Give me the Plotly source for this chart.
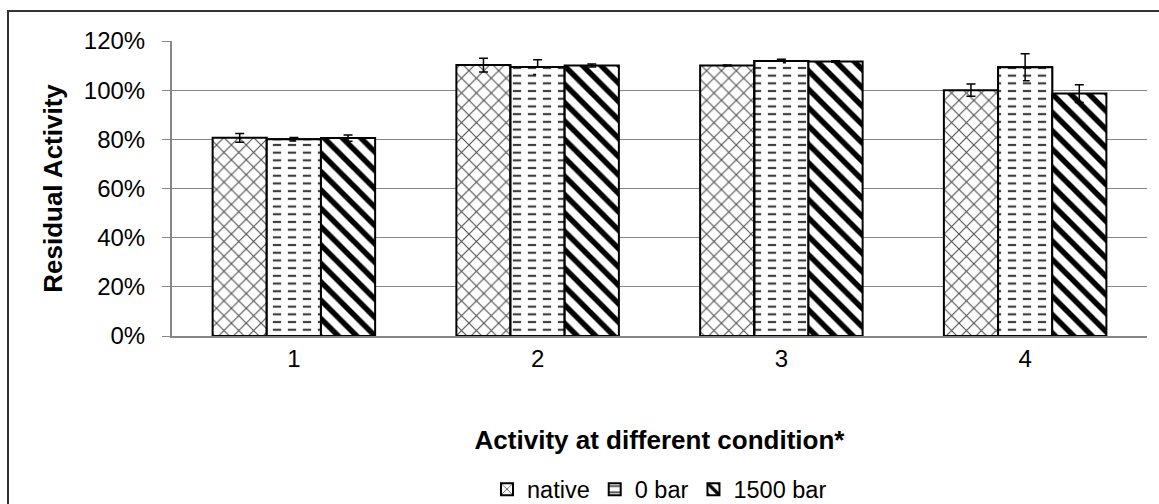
import plotly.graph_objects as go

# Residual activity per condition, three pressure treatments
categories = ["1", "2", "3", "4"]
native = [0.806, 1.102, 1.100, 1.000]
native_err = [0.018, 0.028, 0.002, 0.025]
bar0 = [0.800, 1.094, 1.119, 1.093]
bar0_err = [0.007, 0.030, 0.007, 0.055]
bar1500 = [0.805, 1.100, 1.117, 0.986]
bar1500_err = [0.013, 0.006, 0.003, 0.036]

# bar geometry inside each category slot (gap = 1.5 bar widths)
BAR_W = 1 / 4.5
offsets = [-1.5 * BAR_W, -0.5 * BAR_W, 0.5 * BAR_W]

series = [
    ("native", native, native_err, dict(shape="x", size=10.5, solidity=0.2, fgcolor="#505050")),
    ("0 bar", bar0, bar0_err, dict(shape="-", size=7.7, solidity=0.28, fgcolor="#3c3c3c")),
    ("1500 bar", bar1500, bar1500_err, dict(shape="\\", size=13, solidity=0.42, fgcolor="#000000")),
]

FONT = "Liberation Sans, Arial, sans-serif"

fig = go.Figure()
for (name, vals, errs, pat), off in zip(series, offsets):
    fig.add_trace(go.Bar(
        name=name,
        x=categories,
        y=vals,
        offset=off, width=BAR_W,
        error_y=dict(type="data", array=errs, visible=True, color="black",
                     thickness=1.5, width=4.5),
        marker=dict(color="white", line=dict(color="black", width=2),
                    pattern=dict(bgcolor="white", fillmode="replace", **pat)),
    ))
    if name == "0 bar":
        # white vertical breaks turn the horizontal rules into dashes
        fig.add_trace(go.Bar(
            name=name, showlegend=False, hoverinfo="skip",
            x=categories, y=vals, offset=off, width=BAR_W,
            marker=dict(color="rgba(0,0,0,0)", line=dict(color="black", width=2),
                        pattern=dict(shape="|", size=15, solidity=0.45,
                                     fgcolor="white", bgcolor="rgba(0,0,0,0)",
                                     fillmode="replace")),
        ))

fig.update_layout(
    width=1159, height=504,
    margin=dict(l=172, r=12, t=41, b=168, autoexpand=False),
    paper_bgcolor="white", plot_bgcolor="white",
    barmode="overlay",
    font=dict(family=FONT, size=24, color="black"),
    showlegend=True,
    legend=dict(orientation="h", x=0.5, xanchor="center", y=-0.52, yanchor="middle",
                font=dict(size=23.5), itemwidth=30, traceorder="normal",
                bgcolor="rgba(0,0,0,0)", tracegroupgap=0),
    xaxis=dict(
        showgrid=False, showline=True, linecolor="#868686", linewidth=2,
        ticks="", tickfont=dict(size=24), automargin=False,
        title=dict(text="<b>Activity at different condition*</b>",
                   font=dict(size=26), standoff=60),
    ),
    yaxis=dict(
        range=[0, 1.2], dtick=0.2, tickformat=".0%",
        showgrid=True, gridcolor="#868686", gridwidth=1.3,
        showline=True, linecolor="#868686", linewidth=2,
        ticks="outside", ticklen=8, tickcolor="#868686", tickwidth=1.3,
        ticklabelstandoff=12, tickfont=dict(size=24),
        zeroline=False, automargin=False,
        title=dict(text="<b>Residual Activity</b>", font=dict(size=26), standoff=14),
    ),
    shapes=[dict(type="rect", xref="paper", yref="paper",
                 x0=(8 - 172) / 975, x1=(1170 - 172) / 975,
                 y0=(336 - 515) / 295, y1=(336 - 11) / 295,
                 line=dict(color="#333333", width=2), fillcolor="rgba(0,0,0,0)",
                 layer="below")],
)

fig.write_html("out.html")
